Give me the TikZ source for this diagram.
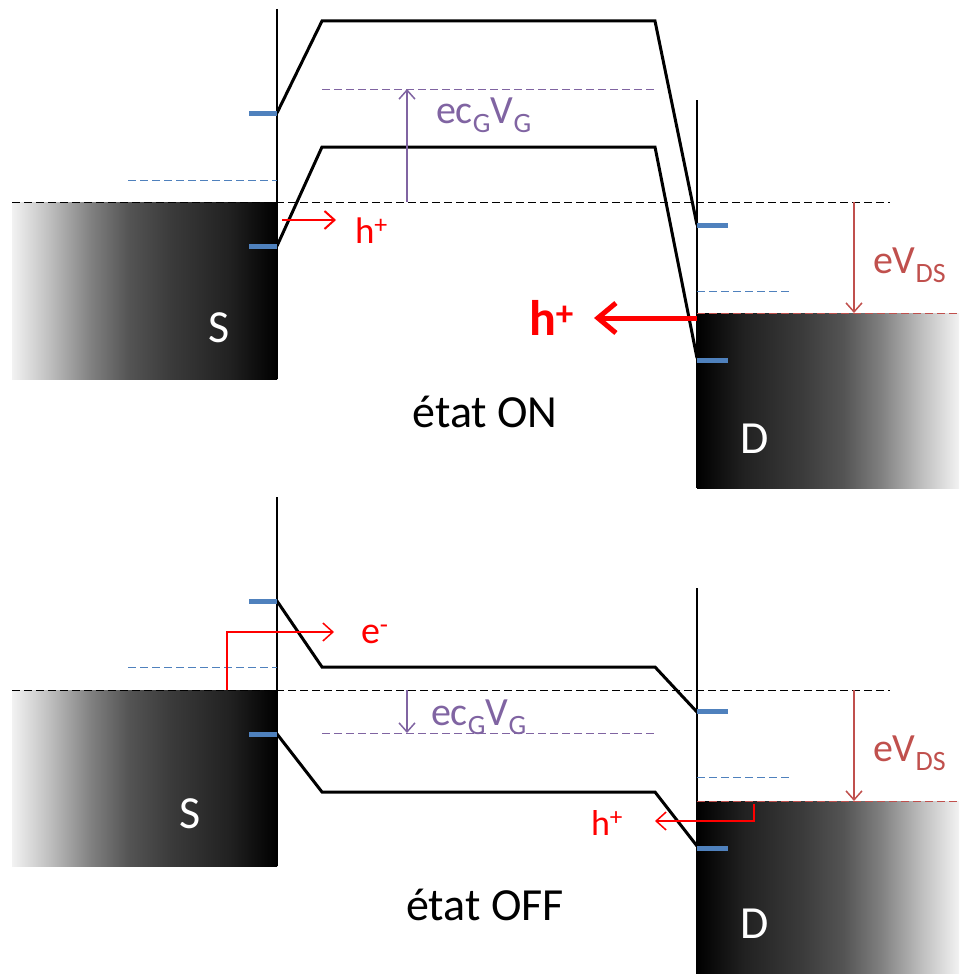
\documentclass[tikz,border=0pt]{standalone}
\usepackage{fontspec}
\setmainfont{Carlito}
\usetikzlibrary{arrows.meta}
\definecolor{bandblue}{RGB}{79,129,189}
\definecolor{vpurple}{RGB}{128,100,162}
\definecolor{vred}{RGB}{192,80,77}
\definecolor{hred}{RGB}{255,0,0}
\pgfdeclarehorizontalshading{sgrad}{100bp}{color(0bp)=(black!5); color(25bp)=(black!5); color(32bp)=(black!25); color(40bp)=(black!50); color(47bp)=(black!67); color(55bp)=(black!77); color(66bp)=(black!87); color(75bp)=(black); color(100bp)=(black)}
\pgfdeclarehorizontalshading{dgrad}{100bp}{color(0bp)=(black); color(25bp)=(black); color(34bp)=(black!87); color(45bp)=(black!77); color(53bp)=(black!67); color(60bp)=(black!50); color(68bp)=(black!25); color(75bp)=(black!5); color(100bp)=(black!5)}
\tikzset{
  band/.style={line width=3pt, line join=miter},
  contact/.style={line width=1.5pt},
  fermi/.style={dash pattern=on 8pt off 4pt, line width=1pt},
  drainfermi/.style={vred, dash pattern=on 8pt off 4pt, line width=1pt},
  level/.style={bandblue, line width=5pt},
  lbdash/.style={bandblue, dash pattern=on 8pt off 4pt, line width=0.8pt},
  gdash/.style={vpurple, dash pattern=on 8pt off 4pt, line width=0.8pt},
  garrow/.style={vpurple, line width=1.5pt, -{Straight Barb[length=9pt,width=16pt]}},
  dsarrow/.style={vred, line width=1.5pt, -{Straight Barb[length=9pt,width=16pt]}},
  redthin/.style={hred, line width=2pt, -{Straight Barb[length=10pt,width=18pt]}},
  redthick/.style={hred, line width=5pt, -{Straight Barb[length=18pt,width=30pt]}},
  lbl/.style={inner sep=0pt, outer sep=0pt},
}
\begin{document}
\begin{tikzpicture}[x=1pt,y=-1pt]
\useasboundingbox (0,0) rectangle (959,974);
% ---------------- Top panel (ON) ----------------
\shade[shading=sgrad] (12,202) rectangle (277,379);
\shade[shading=dgrad] (697,313) rectangle (959,488);
\draw[contact] (277,9) -- (277,379);
\draw[contact] (697,100) -- (697,488);
\draw[fermi] (12,202) -- (890,202);
\draw[drainfermi] (697,313) -- (959,313);
\draw[lbdash] (128,180) -- (277,180);
\draw[lbdash] (697,291) -- (790,291);
\draw[gdash] (322,89) -- (655,89);
\draw[band] (277,113) -- (322,21) -- (655,21) -- (697,225);
\draw[band] (277,246) -- (322,147) -- (655,147) -- (697,358);
\draw[level] (249,113) -- (277,113);
\draw[level] (249,246) -- (277,246);
\draw[level] (697,225) -- (728,225);
\draw[level] (697,360) -- (728,360);
\coordinate (gA) at (407,202); \coordinate (gB) at (407,89);
\draw[garrow] (gA) -- (gB);
\coordinate (dA) at (854,202); \coordinate (dB) at (854,313);
\draw[dsarrow] (dA) -- (dB);
\coordinate (hA) at (282,220); \coordinate (hB) at (336,220);
\draw[redthin] (hA) -- (hB);
\coordinate (HA) at (697,318); \coordinate (HB) at (594,318);
\draw[redthick] (HA) -- (HB);
\node[lbl, vpurple, anchor=base west, font=\fontsize{40}{44}\selectfont] (ecg1) at (436,123) {ec\textsubscript{G}V\textsubscript{G}};
\node[lbl, vred, anchor=base west, font=\fontsize{40}{44}\selectfont] (vds1) at (873,273) {eV\textsubscript{DS}};
\node[lbl, hred, anchor=base west, font=\fontsize{37}{40}\selectfont] (h1) at (355,243) {h\textsuperscript{+}};
\node[lbl, hred, anchor=base west, font=\bfseries\fontsize{50}{56}\selectfont] (h2) at (529,335) {h\textsuperscript{+}};
\node[lbl, white, anchor=base, font=\fontsize{46}{50}\selectfont] (S1) at (219,342) {S};
\node[lbl, white, anchor=base, font=\fontsize{46}{50}\selectfont] (D1) at (755,453) {D};
\node[lbl, anchor=base, font=\fontsize{46}{52}\selectfont] (on) at (485,427) {état ON};
% ---------------- Bottom panel (OFF) ----------------
\shade[shading=sgrad] (12,690) rectangle (277,866);
\shade[shading=dgrad] (697,801) rectangle (959,974);
\draw[contact] (277,497) -- (277,866);
\draw[contact] (697,588) -- (697,974);
\draw[fermi] (12,690) -- (890,690);
\draw[drainfermi] (697,801) -- (959,801);
\draw[lbdash] (128,667) -- (277,667);
\draw[lbdash] (697,777) -- (790,777);
\draw[gdash] (322,733) -- (655,733);
\draw[band] (277,601) -- (322,667) -- (655,667) -- (697,712);
\draw[band] (277,734) -- (322,792) -- (655,792) -- (697,846);
\draw[level] (249,601) -- (277,601);
\draw[level] (249,734) -- (277,734);
\draw[level] (697,711) -- (728,711);
\draw[level] (697,848) -- (728,848);
\coordinate (gC) at (407,690); \coordinate (gD) at (407,733);
\draw[garrow] (gC) -- (gD);
\coordinate (dC) at (854,690); \coordinate (dD) at (854,801);
\draw[dsarrow] (dC) -- (dD);
\coordinate (eA) at (227,690); \coordinate (eB) at (227,632); \coordinate (eC) at (334,632);
\draw[redthin, line width=1.5pt] (eA) -- (eB) -- (eC);
\coordinate (kA) at (754,804); \coordinate (kB) at (754,821); \coordinate (kC) at (655,821);
\draw[redthin, line width=1.5pt] (kA) -- (kB) -- (kC);
\node[lbl, vpurple, anchor=base west, font=\fontsize{40}{44}\selectfont] (ecg2) at (431,725) {ec\textsubscript{G}V\textsubscript{G}};
\node[lbl, vred, anchor=base west, font=\fontsize{40}{44}\selectfont] (vds2) at (873,761) {eV\textsubscript{DS}};
\node[lbl, hred, anchor=base west, font=\fontsize{38}{42}\selectfont] (e1) at (361,643) {e\textsuperscript{-}};
\node[lbl, hred, anchor=base west, font=\fontsize{36}{40}\selectfont] (h3) at (591,835) {h\textsuperscript{+}};
\node[lbl, white, anchor=base, font=\fontsize{46}{50}\selectfont] (S2) at (190,828) {S};
\node[lbl, white, anchor=base, font=\fontsize{46}{50}\selectfont] (D2) at (755,938) {D};
\node[lbl, anchor=base, font=\fontsize{46}{52}\selectfont] (off) at (485,920) {état OFF};
\end{tikzpicture}
\end{document}
